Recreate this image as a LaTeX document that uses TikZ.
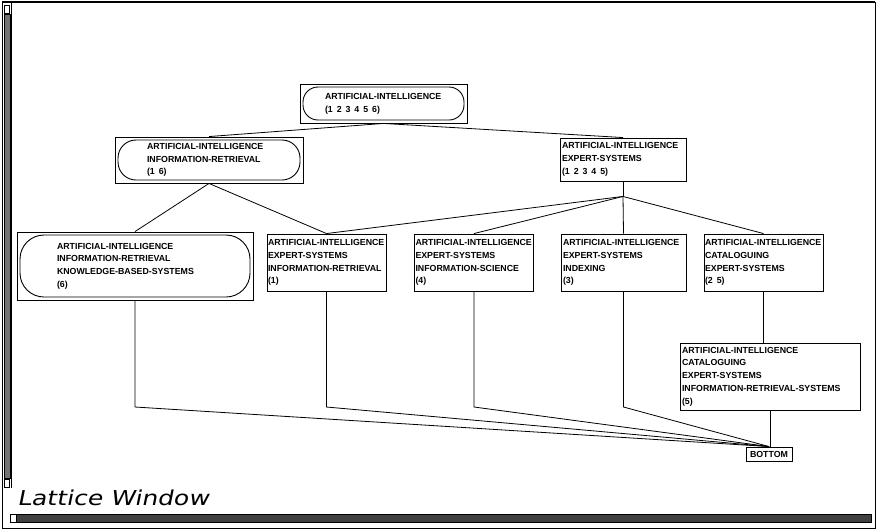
\documentclass[tikz,border=0pt]{standalone}
\usepackage{fontspec}
\setmainfont{Liberation Sans}
\newfontfamily\winfont[FakeSlant=0.2,FakeStretch=1.22]{DejaVu Sans}
\usetikzlibrary{positioning,calc}
\tikzset{
  box/.style={draw,line width=0.9pt,align=left,inner ysep=1pt,font=\fontsize{8.8}{12.7}\selectfont\bfseries},
  rbox/.style={box,path picture={\draw[line width=0.9pt,rounded corners=#1]
      ([shift={(3pt,-3pt)}]path picture bounding box.north west) rectangle
      ([shift={(-3pt,3pt)}]path picture bounding box.south east);}},
  rbox/.default={15pt},
  bar/.style={draw,line width=0.6pt,fill=#1},
  bar/.default={black!55},
}
\newcommand{\nsp}{\hspace{0.45em}}
\begin{document}
\begin{tikzpicture}[x=1pt,y=-1pt,
  link/.style={line width=0.8pt},
  title/.style={anchor=base west,inner sep=0pt,font=\winfont\fontsize{20.5}{22}\selectfont}]
 \useasboundingbox (0,0) rectangle (877,531);
 % ---- window frame and scroll bars
 \draw[line width=0.8pt] (2,2) rectangle (875,528);
 \draw[line width=1.6pt] (2,2)--(875,2);
 \draw[line width=0.6pt] (11,2)--(11,488);
 \draw[bar] (4,14) rectangle (10,478);
 \draw[bar=white] (4.5,5) rectangle (9.5,13);
 \draw[bar=white] (4.5,479) rectangle (9.5,487);
 \draw[bar=black!75] (10,514) rectangle (871,522);
 \draw[bar=white] (10,514) rectangle (16,522);
 \node[title] (wtitle) at (17,505){Lattice Window};
 % ---- lattice nodes
 \node[rbox,text width=117pt,inner xsep=25pt,minimum height=39pt] (ai) at (383.5,103.5){ARTIFICIAL-INTELLIGENCE\\(1\nsp2\nsp3\nsp4\nsp5\nsp6)};
 \node[rbox=18pt,text width=124pt,inner xsep=32pt,minimum height=46pt] (air) at (209,160){ARTIFICIAL-INTELLIGENCE\\INFORMATION-RETRIEVAL\\(1\nsp6)};
 \node[box,text width=122pt,inner xsep=2pt,minimum height=43pt] (aes) at (623,159.5){ARTIFICIAL-INTELLIGENCE\\EXPERT-SYSTEMS\\(1\nsp2\nsp3\nsp4\nsp5)};
 \node[rbox=24pt,text width=156pt,inner xsep=40pt,minimum height=68pt] (kbs) at (135,266){ARTIFICIAL-INTELLIGENCE\\INFORMATION-RETRIEVAL\\KNOWLEDGE-BASED-SYSTEMS\\(6)};
 \node[box,text width=117pt,inner xsep=1pt,minimum height=57pt] (esir) at (326.5,262.5){ARTIFICIAL-INTELLIGENCE\\EXPERT-SYSTEMS\\INFORMATION-RETRIEVAL\\(1)};
 \node[box,text width=117pt,inner xsep=1pt,minimum height=57pt] (esis) at (474,262.5){ARTIFICIAL-INTELLIGENCE\\EXPERT-SYSTEMS\\INFORMATION-SCIENCE\\(4)};
 \node[box,text width=121pt,inner xsep=2pt,minimum height=57pt] (esix) at (623.5,262.5){ARTIFICIAL-INTELLIGENCE\\EXPERT-SYSTEMS\\INDEXING\\(3)};
 \node[box,text width=117pt,inner xsep=1pt,minimum height=57pt] (cat) at (763.5,262.5){ARTIFICIAL-INTELLIGENCE\\CATALOGUING\\EXPERT-SYSTEMS\\(2\nsp5)};
 \node[box,text width=176pt,inner xsep=2pt,minimum height=67pt] (catirs) at (770,376.5){ARTIFICIAL-INTELLIGENCE\\CATALOGUING\\EXPERT-SYSTEMS\\INFORMATION-RETRIEVAL-SYSTEMS\\(5)};
 \node[box,inner xsep=4pt,minimum height=14pt] (bot) at (769,454){BOTTOM};
 % ---- links
 \coordinate (esfan) at ($(aes.south)+(0,15)$);
 \coordinate (lvl) at (0,407);
 \draw[link] (ai.south)--(air.north);
 \draw[link] (ai.south)--(aes.north);
 \draw[link] (air.south)--(kbs.north);
 \draw[link] (air.south)--(esir.north);
 \draw[link] (aes.south)--(esfan);
 \foreach \n in {esir,esis,esix,cat}{\draw[link] (esfan)--(\n.north);}
 \draw[link] (cat.south)--(cat.south |- catirs.north);
 \foreach \n in {kbs,esir,esis,esix}{\draw[link] (\n.south)--(\n.south |- lvl)--(bot.north);}
 \draw[link] (catirs.south)--(catirs.south |- bot.north);
\end{tikzpicture}
\end{document}
